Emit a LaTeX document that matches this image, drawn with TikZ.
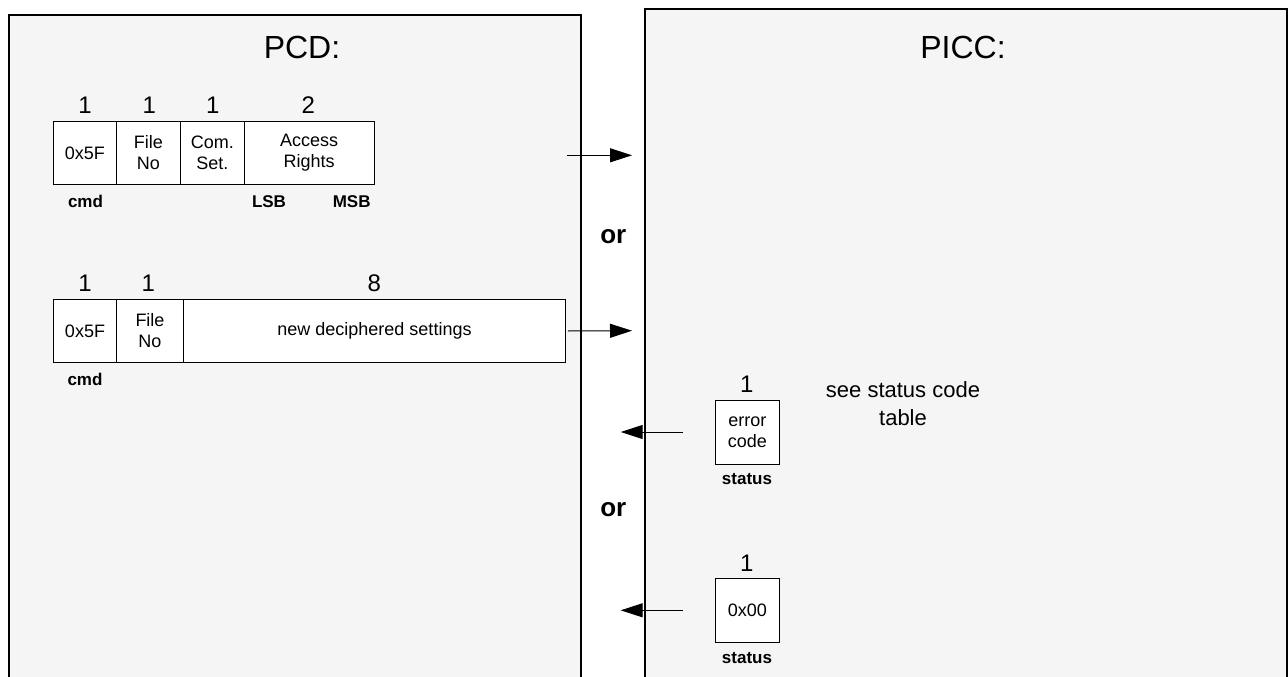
\documentclass[tikz,border=0pt]{standalone}
\usepackage{fontspec}
\setmainfont{Liberation Sans}
\usetikzlibrary{arrows.meta}
\begin{document}
\begin{tikzpicture}[x=1pt,y=-1pt,
  panel/.style={fill=black!4,draw=none},
  panelline/.style={draw=black,line width=1.1pt},
  cell/.style={draw=black,fill=white,line width=0.9pt,inner sep=0pt,align=center,
    font=\fontsize{18}{21}\selectfont},
  num/.style={anchor=base,inner sep=0pt,font=\fontsize{24}{28}\selectfont},
  lbl/.style={anchor=base,inner sep=0pt,font=\fontsize{17}{20}\selectfont\bfseries},
  ortxt/.style={anchor=base,inner sep=0pt,font=\fontsize{26}{30}\selectfont\bfseries},
  title/.style={anchor=base,inner sep=0pt,font=\fontsize{32}{36}\selectfont},
  note/.style={anchor=base,inner sep=0pt,align=center,font=\fontsize{22}{27.3}\selectfont},
  msg/.style={line width=1pt,-{Triangle[length=22pt,width=14pt]}}
]
\useasboundingbox (0,0) rectangle (1288,677);
% panels
\fill[panel] (9,15) rectangle (581,677);
\fill[panel] (645,9) rectangle (1287,677);
\draw[panelline] (9,677) -- (9,15) -- (581,15) -- (581,677);
\draw[panelline] (645,677) -- (645,9) -- (1287,9) -- (1287,677);
\node[title] (tpcd) at (302,58.3) {PCD:};
\node[title] (tpicc) at (963,58.7) {PICC:};
% row 1
\node[cell,minimum width=63.2pt,minimum height=62.6pt] (a1) at (84.9,153) {0x5F};
\node[cell,minimum width=63.8pt,minimum height=62.6pt] (a2) at (148.4,153) {File\\No};
\node[cell,minimum width=64pt,minimum height=62.6pt] (a3) at (212.3,153) {Com.\\Set.};
\node[cell,minimum width=129.7pt,minimum height=62.6pt] (a4) at (309.15,153) {Access\\Rights};
\node[num] (n11) at (85,113.3) {1};
\node[num] (n12) at (149.3,113.3) {1};
\node[num] (n13) at (212.7,113.3) {1};
\node[num] (n14) at (308.3,113.3) {2};
\node[lbl] (c1) at (85.5,207) {cmd};
\node[lbl] (lsb) at (269,207) {LSB};
\node[lbl] (msb) at (351.7,207) {MSB};
% row 2
\node[cell,minimum width=63.4pt,minimum height=63.4pt] (b1) at (85,331) {0x5F};
\node[cell,minimum width=66.6pt,minimum height=63.4pt] (b2) at (150,331) {File\\No};
\node[cell,minimum width=382.4pt,minimum height=63.4pt] (b3) at (374.5,331) {new deciphered settings};
\node[num] (n21) at (85,291.7) {1};
\node[num] (n22) at (148.3,291.7) {1};
\node[num] (n23) at (374.3,291.7) {8};
\node[lbl] (c2) at (85,385) {cmd};
% arrows to PICC
\coordinate (s1) at (567,155.3);
\coordinate (e1) at (632,155.3);
\draw[msg] (s1) -- (e1);
\coordinate (e2) at (632,330.7);
\draw[msg] ([xshift=1.6pt]b3.east) -- (e2);
\node[ortxt] (or1) at (613.3,243) {or};
\node[ortxt] (or2) at (613.3,516.7) {or};
% PICC responses
\node[cell,minimum width=64pt,minimum height=64pt] (r1) at (747.3,432) {error\\code};
\node[num] (rn1) at (746.7,392.7) {1};
\node[lbl] (st1) at (747,484.3) {status};
\node[note] (see) at (903,425) {see status code\\table};
\node[cell,minimum width=64pt,minimum height=63.3pt] (r2) at (747.3,610.3) {0x00};
\node[num] (rn2) at (746.7,571) {1};
\node[lbl] (st2) at (747,663.3) {status};
\coordinate (t1) at (620.7,432);
\coordinate (t2) at (620.7,610.3);
\draw[msg] ([xshift=-32pt]r1.west) -- (t1);
\draw[msg] ([xshift=-32pt]r2.west) -- (t2);
\end{tikzpicture}
\end{document}
